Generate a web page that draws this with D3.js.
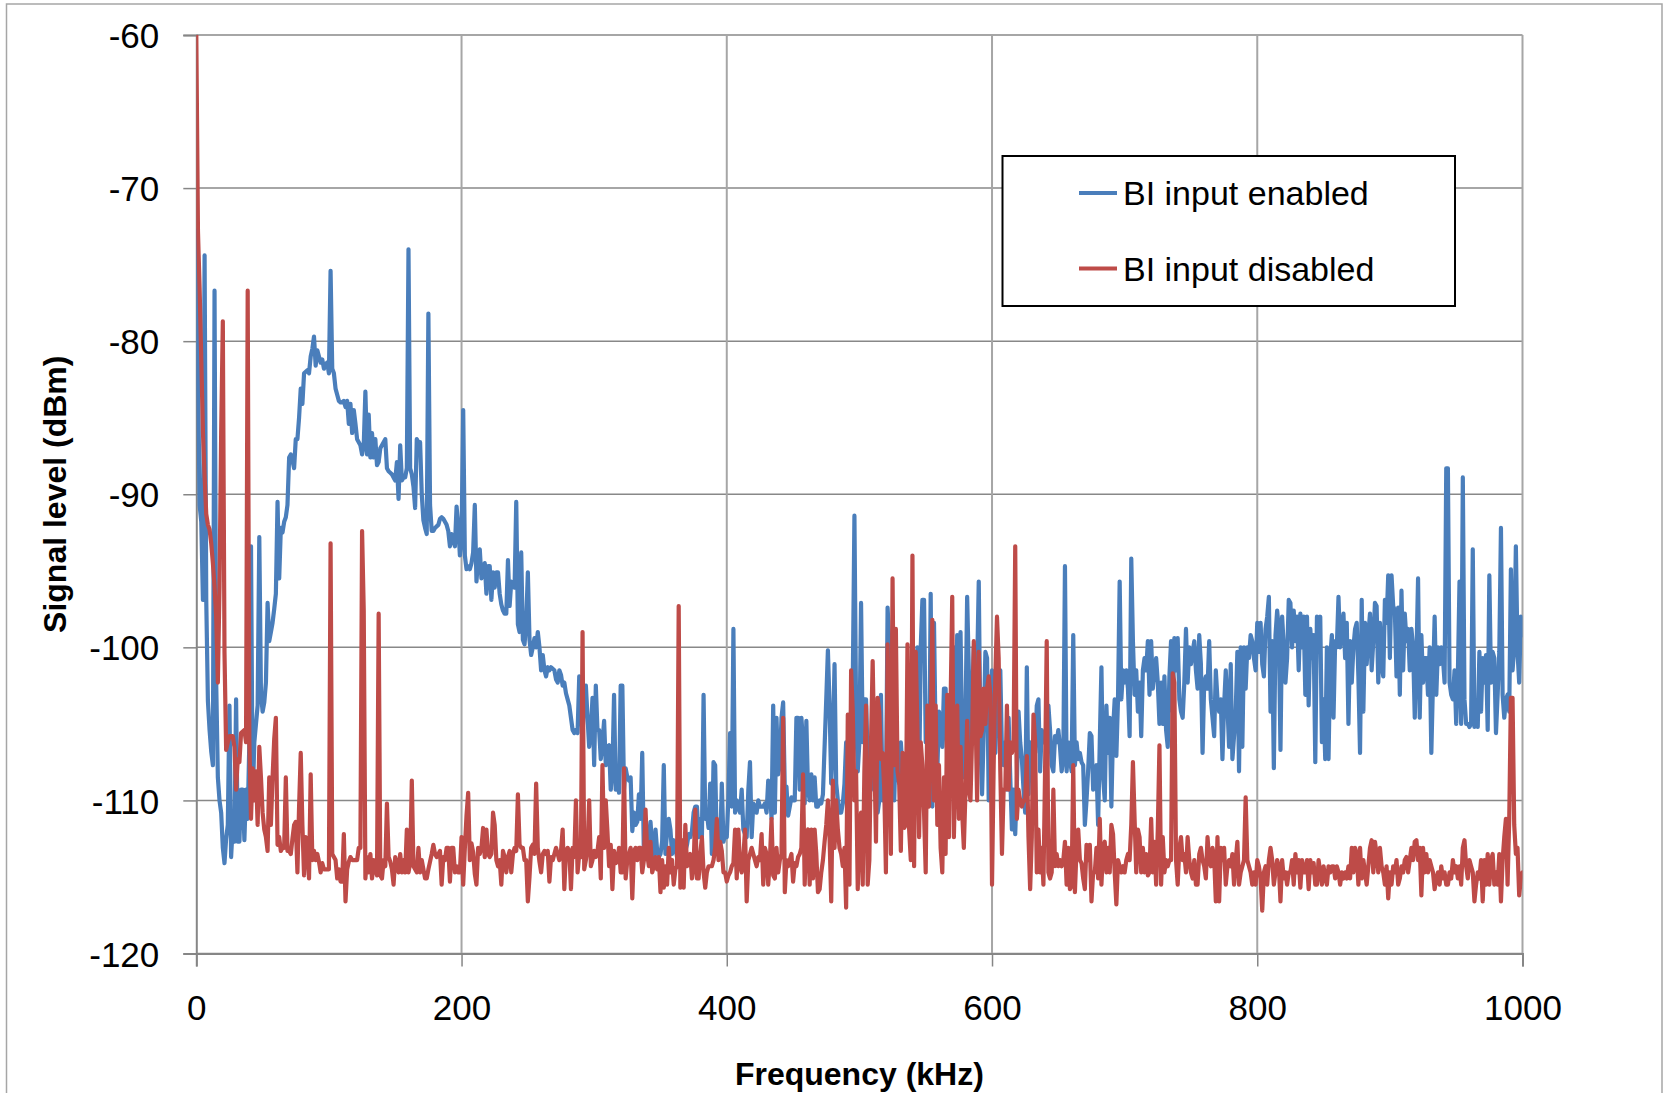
<!DOCTYPE html>
<html>
<head>
<meta charset="utf-8">
<script src="https://cdn.jsdelivr.net/npm/d3@7/dist/d3.min.js"></script>
<style>
  body { margin: 0; background: #fff; }
  text { font-family: "Liberation Sans", Arial, sans-serif; fill: #000; }
</style>
</head>
<body>
<svg id="chart" width="1663" height="1093"></svg>
<script>
// Series names and colours
const seriesNames = ["BI input enabled", "BI input disabled"];
const seriesColors = ["#4a7ebb", "#be4b48"];

// Axis ticks
const xTicks = [0, 200, 400, 600, 800, 1000];
const yTicks = [-60, -70, -80, -90, -100, -110, -120];

// Sweep: points every 1.25 kHz in six blocks
const stepKHz = 1.25;
const segmentStartKHz = [0, 168.75, 335, 508.75, 677.5, 847.5];

// Signal level (dBm), BI input enabled
const enabledDBm = [
  [-72.8,-81.8,-90.7,-91.8,-96.9,-74.4,-96.9,-103.5,-105.4,-106.8,
   -107.7,-76.7,-102.3,-108.5,-110.0,-110.8,-113.1,-114.1,-112.5,-111.6,
   -103.8,-113.7,-111.6,-112.7,-103.4,-112.7,-112.7,-109.3,-109.3,-112.6,
   -109.3,-111.2,-106.2,-93.4,-110.0,-106.2,-105.0,-103.8,-92.8,-103.0,
   -104.2,-103.6,-102.3,-97.1,-99.6,-99.0,-98.4,-97.5,-96.5,-90.5,
   -95.5,-92.2,-92.5,-91.8,-91.5,-90.7,-87.6,-87.4,-87.8,-88.3,
   -86.4,-86.4,-85.0,-83.1,-84.1,-82.1,-82.0,-81.9,-82.1,-81.0,
   -80.5,-79.7,-81.6,-80.6,-81.0,-81.4,-81.2,-81.8,-81.5,-81.4,
   -82.1,-75.4,-81.8,-82.1,-83.1,-83.5,-83.9,-84.0,-84.0,-83.9,
   -84.3,-83.9,-85.4,-84.1,-86.0,-84.5,-85.4,-86.4,-86.6,-86.8,
   -87.4,-86.8,-83.3,-87.4,-84.8,-87.6,-86.0,-87.6,-86.4,-88.1,
   -87.9,-87.0,-86.8,-86.6,-86.4,-88.3,-88.5,-88.6,-88.7,-88.9,
   -89.1,-87.9,-90.3,-86.8,-89.1,-88.9,-88.9,-88.3,-74.0,-88.3,
   -88.7,-89.5,-90.9,-86.4,-86.6],
  [-86.6,-90.0,-91.7,-92.2,-92.6,-78.2,-90.7,-92.4,-92.4,-92.2,
   -92.1,-92.0,-91.6,-91.5,-91.6,-91.8,-92.0,-92.4,-93.4,-92.6,
   -93.0,-93.4,-90.8,-92.0,-94.0,-93.0,-84.5,-94.0,-94.9,-94.7,
   -94.9,-94.5,-93.8,-90.7,-95.7,-94.2,-93.6,-95.5,-94.9,-94.5,
   -96.5,-94.7,-94.7,-96.9,-95.1,-96.1,-95.1,-95.1,-96.5,-97.2,
   -97.6,-97.8,-97.8,-94.3,-97.3,-95.7,-96.0,-96.1,-90.5,-98.5,
   -99.0,-93.8,-99.5,-99.8,-98.4,-95.1,-99.5,-100.5,-100.0,-99.4,
   -100.0,-99.0,-100.0,-101.5,-100.5,-101.5,-101.9,-101.3,-101.5,-101.3,
   -101.4,-101.5,-102.1,-102.3,-101.5,-101.8,-102.5,-102.3,-103.0,-103.4,
   -103.8,-104.6,-105.4,-105.6,-105.4,-105.6,-101.9,-104.2,-105.6,-103.3,
   -102.5,-104.6,-106.5,-105.4,-103.3,-107.7,-102.5,-105.4,-105.4,-107.3,
   -106.2,-104.8,-107.7,-106.5,-106.4,-109.3,-108.1,-103.1,-109.3,-108.1,
   -109.5,-102.5,-102.5,-109.3,-107.9,-108.5,-108.7,-108.5,-112.0,-110.8,
   -111.6,-111.4,-109.6],
  [-111.2,-106.9,-113.5,-113.1,-112.9,-112.3,-111.4,-113.1,-113.7,-111.9,
   -113.3,-113.7,-113.5,-112.7,-107.7,-113.5,-112.0,-111.2,-111.9,-113.5,
   -112.6,-113.1,-113.7,-112.9,-113.1,-113.3,-112.7,-113.3,-112.9,-112.2,
   -112.4,-112.0,-110.8,-110.4,-110.4,-112.4,-111.2,-112.4,-103.1,-111.2,
   -110.8,-111.8,-108.9,-113.5,-107.5,-107.7,-113.1,-112.4,-113.1,-108.9,
   -112.7,-112.2,-112.4,-109.8,-105.6,-110.4,-98.8,-110.8,-110.0,-110.4,
   -110.8,-109.3,-111.9,-112.2,-112.4,-109.3,-107.5,-112.4,-110.2,-110.4,
   -110.8,-110.0,-110.4,-110.4,-110.4,-110.2,-110.8,-108.7,-109.1,-111.2,
   -103.8,-110.8,-104.6,-108.3,-107.7,-104.6,-103.6,-109.3,-109.1,-111.0,
   -110.4,-109.8,-110.0,-110.0,-104.6,-104.6,-109.3,-104.6,-106.2,-110.2,
   -104.8,-109.3,-110.0,-108.3,-110.0,-108.5,-110.4,-110.4,-110.0,-110.2,
   -109.6,-106.5,-103.4,-100.2,-103.8,-108.9,-106.2,-101.1,-108.9,-110.0,
   -110.8,-110.8,-110.2,-108.9,-106.2,-108.5,-107.3,-104.0,-102.3,-91.4,
   -104.2,-108.1,-106.2,-97.1,-106.2,-103.4,-103.4,-107.3,-109.3],
  [-109.3,-108.1,-108.5,-105.8,-110.8,-110.0,-103.1,-110.0,-108.1,-110.0,
   -97.4,-99.6,-107.7,-107.3,-110.0,-106.2,-108.1,-108.9,-106.2,-108.1,
   -110.4,-109.3,-106.2,-104.2,-107.7,-107.7,-109.6,-106.2,-100.0,-109.3,
   -100.0,-96.9,-96.9,-106.2,-104.2,-109.3,-96.5,-110.4,-98.4,-106.2,
   -108.1,-104.2,-105.0,-106.5,-102.7,-102.7,-107.7,-106.2,-105.4,-101.5,
   -100.0,-105.4,-99.2,-109.3,-99.0,-106.2,-108.5,-104.6,-96.7,-101.5,
   -107.7,-103.4,-100.0,-105.8,-101.5,-95.7,-106.2,-109.6,-105.4,-100.3,
   -100.7,-110.0,-105.4,-101.5,-101.9,-106.9,-103.8,-103.4,-101.5,-106.9,
   -107.7,-106.2,-109.3,-104.6,-108.5,-111.9,-109.3,-112.2,-108.9,-104.2,
   -106.2,-107.3,-109.3,-110.8,-101.3,-109.6,-106.2,-108.5,-106.2,-106.9,
   -103.8,-103.4,-108.1,-105.4,-105.8,-106.2,-106.5,-103.8,-105.4,-107.7,
   -108.1,-105.8,-106.2,-105.4,-106.5,-108.1,-107.3,-94.7,-108.1,-106.2,
   -107.3,-108.1,-99.2,-107.7,-106.2,-107.3,-106.9,-107.5,-107.7,-111.6,
   -110.0,-108.0,-105.6,-105.8,-109.3],
  [-108.5,-107.7,-111.6,-106.2,-101.3,-108.5,-110.0,-103.8,-106.9,-104.6,
   -110.4,-105.4,-103.4,-107.1,-103.4,-95.7,-103.4,-101.5,-102.3,-101.5,
   -102.7,-105.8,-94.2,-99.6,-103.1,-101.5,-104.2,-102.3,-105.8,-101.5,
   -100.7,-101.5,-99.6,-103.1,-99.6,-102.7,-101.5,-100.7,-102.3,-105.0,
   -102.3,-105.0,-101.9,-105.4,-106.5,-101.9,-99.6,-104.2,-99.4,-101.5,
   -99.4,-103.4,-104.2,-104.6,-102.3,-98.8,-102.3,-100.0,-101.1,-100.3,
   -99.6,-101.5,-102.7,-99.2,-101.1,-106.9,-102.3,-101.9,-102.7,-99.6,
   -103.4,-104.6,-105.8,-101.5,-103.4,-104.2,-103.4,-107.3,-103.8,-101.5,
   -103.8,-106.5,-101.1,-107.3,-105.8,-104.2,-100.3,-108.1,-100.0,-106.5,
   -100.0,-102.7,-100.0,-100.7,-99.2,-99.6,-100.7,-101.5,-98.4,-100.3,
   -98.4,-101.1,-101.9,-98.8,-98.0,-96.7,-104.2,-99.6,-107.9,-99.2,
   -97.6,-98.8,-106.7,-98.0,-100.0,-102.3,-100.7,-96.9,-97.1,-100.0,
   -97.6,-99.6,-98.0,-101.5,-97.8,-100.0,-98.0,-103.1,-98.0,-103.8,
   -98.8,-100.7,-99.2,-107.5,-98.0,-99.2],
  [-98.0,-106.2,-103.4,-107.3,-100.0,-107.3,-100.7,-99.2,-104.6,-99.6,
   -100.0,-96.7,-100.0,-99.2,-97.8,-100.7,-98.4,-105.0,-99.6,-102.3,
   -100.0,-98.8,-98.4,-101.9,-106.9,-96.9,-104.2,-98.4,-101.1,-99.2,
   -97.8,-101.5,-99.6,-97.1,-97.3,-102.3,-98.4,-101.1,-101.9,-96.9,
   -98.4,-95.3,-100.7,-95.3,-97.3,-97.6,-101.9,-97.4,-103.1,-96.3,
   -101.5,-97.8,-99.6,-98.8,-101.5,-98.8,-100.0,-104.6,-100.7,-95.5,
   -104.6,-99.2,-102.3,-100.7,-100.7,-103.1,-100.0,-106.9,-102.3,-98.0,
   -103.1,-100.0,-101.1,-100.0,-100.7,-102.3,-88.3,-88.3,-102.3,-103.1,
   -103.4,-101.5,-105.0,-101.9,-95.7,-105.0,-88.9,-103.4,-105.0,-105.0,
   -105.2,-105.0,-93.6,-105.2,-103.8,-105.2,-100.3,-104.2,-100.7,-102.3,
   -100.5,-105.4,-95.3,-102.3,-100.3,-100.7,-105.6,-103.1,-100.3,-92.2,
   -103.1,-104.6,-103.4,-103.1,-104.2,-94.9,-101.5,-100.0,-93.4,-100.3,
   -102.3,-98.0,-99.2]
];

// Signal level (dBm), BI input disabled
const disabledDBm = [
  [-60.0,-72.8,-76.6,-81.2,-85.9,-88.8,-91.3,-92.0,-92.3,-93.2,
   -94.5,-96.0,-98.0,-102.3,-96.0,-86.0,-78.7,-100.3,-106.7,-106.2,
   -105.8,-105.8,-105.8,-106.5,-109.3,-107.3,-107.5,-105.6,-105.5,-105.4,
   -106.2,-76.7,-106.2,-111.2,-107.9,-110.0,-108.1,-111.6,-106.5,-108.5,
   -110.8,-111.9,-112.4,-113.3,-108.5,-111.6,-108.5,-106.0,-104.6,-112.9,
   -112.4,-113.3,-113.1,-113.1,-108.5,-113.3,-113.3,-113.5,-112.5,-111.6,
   -111.4,-114.7,-110.4,-106.9,-111.6,-114.9,-112.4,-113.0,-115.1,-108.3,
   -113.9,-113.3,-113.9,-113.5,-114.0,-114.7,-114.1,-114.5,-114.5,-114.5,
   -114.5,-93.2,-113.5,-113.7,-113.9,-115.1,-114.5,-115.3,-115.3,-112.2,
   -116.6,-114.5,-114.0,-113.7,-113.9,-113.9,-113.9,-113.9,-113.1,-113.1,
   -92.4,-97.6,-115.1,-113.7,-114.7,-113.5,-115.1,-113.9,-114.5,-114.9,
   -97.8,-114.9,-115.1,-113.9,-114.3,-110.2,-113.7,-114.0,-114.5,-115.5,
   -113.7,-114.2,-114.7,-113.5,-114.7,-113.9,-114.7,-111.9,-114.7,-114.1,
   -108.7,-114.3,-114.5,-114.7,-113.1],
  [-114.7,-113.9,-114.5,-115.1,-115.1,-114.5,-114.0,-113.5,-112.9,-113.5,
   -113.7,-113.5,-113.3,-115.5,-113.7,-113.9,-113.1,-113.1,-115.3,-113.1,
   -113.1,-114.7,-114.3,-114.7,-114.7,-112.4,-115.5,-113.1,-111.0,-109.5,
   -113.9,-112.8,-113.4,-114.8,-115.5,-113.1,-113.5,-113.1,-111.8,-113.7,
   -111.9,-113.5,-113.7,-113.5,-110.8,-111.6,-113.9,-114.3,-113.9,-115.5,
   -113.3,-113.7,-114.7,-113.7,-113.3,-114.7,-113.5,-113.1,-113.3,-109.6,
   -112.9,-113.1,-113.1,-113.9,-113.9,-116.6,-115.0,-113.1,-112.9,-113.5,
   -108.9,-113.1,-114.0,-114.7,-113.5,-113.3,-113.5,-113.3,-115.3,-113.7,
   -113.9,-113.5,-113.1,-113.5,-113.9,-113.3,-111.9,-115.8,-113.3,-113.1,
   -113.3,-115.8,-113.1,-113.7,-110.0,-114.7,-113.5,-113.7,-99.0,-114.5,
   -113.9,-113.1,-110.0,-114.3,-113.9,-113.3,-113.7,-113.3,-112.4,-115.1,
   -107.7,-113.1,-110.0,-112.0,-114.3,-112.9,-115.8,-113.3,-114.1,-114.0,
   -113.1,-114.7,-114.7,-107.9,-115.1,-113.9,-113.5,-113.1,-116.4,-113.3,
   -113.1,-113.9,-113.1],
  [-113.1,-114.7,-113.9,-110.6,-113.5,-114.3,-112.7,-114.7,-114.3,-113.7,
   -114.5,-113.7,-116.0,-113.9,-115.7,-114.3,-115.5,-113.1,-114.7,-113.9,
   -115.5,-114.5,-114.3,-97.3,-115.7,-112.6,-115.7,-111.6,-114.3,-114.1,
   -113.5,-115.1,-114.3,-110.6,-115.1,-115.1,-113.5,-112.4,-114.7,-115.7,
   -114.7,-114.3,-114.3,-114.3,-113.9,-113.1,-111.2,-113.9,-112.7,-113.3,
   -114.7,-114.7,-115.3,-114.9,-114.7,-114.3,-114.1,-111.9,-115.1,-111.9,
   -114.3,-114.7,-113.7,-111.9,-116.6,-113.9,-113.5,-113.1,-113.5,-113.9,
   -114.3,-113.7,-113.9,-112.2,-115.5,-113.1,-113.5,-115.5,-113.9,-111.2,
   -114.9,-115.1,-113.1,-114.7,-113.9,-113.5,-104.6,-116.0,-113.9,-114.3,
   -113.9,-113.5,-115.3,-114.1,-114.3,-113.7,-113.5,-113.1,-108.3,-115.5,
   -112.2,-111.9,-115.5,-111.9,-115.1,-111.9,-113.5,-116.0,-115.8,-114.7,
   -113.9,-112.7,-111.6,-110.0,-112.4,-116.6,-108.7,-113.1,-110.0,-111.9,
   -113.1,-113.5,-114.3,-113.1,-117.0,-104.4,-115.5,-101.5,-104.2,-110.0,
   -108.1,-115.8,-111.6,-110.8,-115.5,-108.1,-103.8,-115.5,-113.9],
  [-106.2,-100.9,-106.9,-112.7,-103.3,-104.2,-107.3,-106.9,-109.3,-114.7,
   -99.8,-106.5,-113.5,-95.5,-107.7,-98.8,-108.1,-108.9,-113.3,-106.9,
   -111.8,-111.6,-99.8,-111.9,-113.9,-94.0,-114.3,-100.3,-105.4,-112.4,
   -106.2,-107.7,-110.8,-114.7,-103.8,-110.4,-105.8,-98.2,-110.0,-103.8,
   -111.6,-107.7,-113.1,-114.7,-108.5,-113.5,-103.1,-112.4,-103.8,-96.7,
   -112.4,-107.3,-103.8,-111.2,-106.5,-110.8,-113.1,-109.3,-104.8,-109.3,
   -110.0,-105.8,-99.6,-103.8,-110.0,-100.3,-105.8,-105.4,-102.7,-105.0,
   -102.7,-101.9,-103.1,-115.5,-107.7,-101.9,-98.0,-100.7,-108.1,-113.5,
   -109.3,-109.3,-103.8,-109.3,-106.2,-106.9,-106.5,-93.4,-111.2,-109.3,
   -110.0,-110.4,-110.0,-110.0,-107.1,-112.4,-115.8,-112.4,-104.4,-106.2,
   -114.7,-111.9,-114.7,-113.1,-115.5,-108.1,-99.6,-114.7,-115.1,-114.7,
   -109.3,-114.3,-113.5,-114.3,-113.9,-114.3,-113.9,-112.7,-115.5,-113.1,
   -115.8,-115.6,-107.7,-116.0,-113.1,-111.9,-113.9,-114.1,-115.1,-115.8,
   -112.9,-113.9,-112.9,-116.6,-114.7],
  [-114.7,-113.1,-115.1,-111.2,-115.5,-113.1,-112.7,-114.7,-113.1,-114.7,
   -111.6,-112.2,-114.7,-116.8,-113.9,-114.3,-114.7,-114.3,-114.7,-113.9,
   -113.5,-113.9,-111.6,-107.5,-111.2,-114.7,-111.9,-112.4,-114.7,-113.1,
   -114.7,-113.5,-114.9,-114.7,-111.2,-114.7,-112.7,-115.5,-111.9,-106.4,
   -115.5,-112.4,-114.7,-113.9,-114.3,-113.9,-113.9,-101.7,-102.3,-113.9,
   -115.5,-113.1,-112.4,-113.9,-113.5,-114.7,-112.4,-113.9,-114.7,-115.1,
   -113.9,-115.5,-115.5,-113.5,-113.1,-113.9,-114.3,-115.1,-112.4,-113.9,
   -114.3,-113.1,-113.7,-116.6,-112.4,-116.6,-113.1,-113.9,-113.1,-115.5,
   -114.3,-113.9,-114.3,-113.5,-115.5,-113.9,-112.7,-115.5,-114.7,-114.3,
   -113.9,-109.8,-113.9,-114.3,-114.7,-115.5,-114.7,-115.5,-113.9,-114.3,
   -115.1,-117.2,-114.7,-114.3,-115.5,-113.9,-113.1,-113.9,-115.5,-114.7,
   -113.9,-114.3,-116.6,-113.9,-115.1,-114.7,-115.5,-114.7,-114.7,-113.9,
   -115.5,-113.5,-114.7,-113.9,-115.7,-113.9,-114.7,-114.7,-113.9,-115.8,
   -113.9,-114.7,-114.1,-115.5,-115.5,-113.9],
  [-114.7,-115.5,-114.3,-115.1,-115.5,-114.3,-114.7,-114.3,-114.3,-115.1,
   -114.3,-114.7,-115.5,-114.7,-115.1,-114.7,-115.1,-114.3,-115.1,-113.1,
   -114.7,-113.1,-113.5,-115.5,-113.1,-115.1,-113.9,-114.7,-115.5,-114.3,
   -113.1,-112.6,-114.7,-112.7,-113.5,-114.7,-113.1,-114.3,-114.7,-115.5,
   -114.3,-116.4,-114.7,-115.5,-114.3,-114.7,-113.9,-115.5,-115.1,-114.3,
   -114.7,-113.9,-113.7,-114.7,-113.9,-113.1,-113.9,-112.7,-112.6,-113.9,
   -113.1,-116.2,-113.1,-114.7,-113.5,-114.7,-113.9,-114.3,-114.7,-115.8,
   -115.1,-114.7,-115.5,-114.3,-115.1,-114.7,-115.5,-115.5,-114.7,-115.1,
   -113.9,-114.7,-114.3,-115.1,-114.3,-115.5,-113.1,-112.6,-114.3,-115.1,
   -113.9,-114.3,-114.7,-116.6,-115.5,-114.7,-115.1,-113.9,-116.6,-113.9,
   -115.5,-113.5,-115.5,-113.9,-113.5,-115.5,-114.7,-115.5,-113.5,-116.6,
   -113.9,-112.4,-111.2,-115.5,-111.2,-103.3,-103.3,-111.6,-113.5,-113.1,
   -116.2,-115.1,-114.7]
];

// Flatten the blocks into {khz, dbm} points on the sweep grid
function toPoints(blocks) {
  const pts = [];
  blocks.forEach(function(block, b) {
    block.forEach(function(v, i) {
      pts.push({ khz: segmentStartKHz[b] + i * stepKHz, dbm: v });
    });
  });
  return pts;
}

const series = [toPoints(enabledDBm), toPoints(disabledDBm)];

/**
 * Layout
 */
const width = 1663;
const height = 1093;
const plot = { left: 196.3, right: 1522.5, top: 35, bottom: 953.5 };

const svg = d3.select("#chart");

const xScale = d3.scaleLinear().domain([0, 1000]).range([plot.left, plot.right]);
const yScale = d3.scaleLinear().domain([-120, -60]).range([plot.bottom, plot.top]);

// Outer chart border
svg.append("rect")
  .attr("x", 6.5).attr("y", 4)
  .attr("width", 1655.5).attr("height", height + 10)
  .attr("fill", "#fff")
  .attr("stroke", "#a6a6a6")
  .attr("stroke-width", 1.5);

// Gridlines
svg.append("g").selectAll("line")
  .data(yTicks)
  .enter().append("line")
  .attr("x1", plot.left).attr("x2", plot.right)
  .attr("y1", function(d) { return yScale(d); })
  .attr("y2", function(d) { return yScale(d); })
  .attr("stroke", "#888")
  .attr("stroke-width", 1.5);

svg.append("g").selectAll("line")
  .data(xTicks.slice(1))
  .enter().append("line")
  .attr("x1", function(d) { return xScale(d); })
  .attr("x2", function(d) { return xScale(d); })
  .attr("y1", plot.top).attr("y2", plot.bottom)
  .attr("stroke", "#a6a6a6")
  .attr("stroke-width", 2);

// Axes (plain hyphen for negatives, as in the original)
const yAxis = d3.axisLeft(yScale)
  .tickValues(yTicks)
  .tickSize(13)
  .tickPadding(24)
  .tickFormat(function(d) { return String(d); });

const xAxis = d3.axisBottom(xScale)
  .tickValues(xTicks)
  .tickSize(13)
  .tickPadding(36)
  .tickFormat(function(d) { return String(d); });

const gy = svg.append("g")
  .attr("transform", "translate(" + plot.left + ",0)")
  .call(yAxis);

const gx = svg.append("g")
  .attr("transform", "translate(0," + plot.bottom + ")")
  .call(xAxis);

[gx, gy].forEach(function(g) {
  g.select(".domain").attr("stroke", "#868686").attr("stroke-width", 2);
  g.selectAll(".tick line").attr("stroke", "#868686").attr("stroke-width", 1.5);
  g.selectAll(".tick text")
    .attr("fill", "#000")
    .style("font-family", "'Liberation Sans', Arial, sans-serif")
    .style("font-size", "35px");
});
gy.selectAll(".tick text").attr("dy", "0.36em");
gx.selectAll(".tick text").attr("dy", "0.5em");

// Series lines
svg.append("clipPath").attr("id", "plotClip")
  .append("rect")
  .attr("x", plot.left).attr("y", plot.top)
  .attr("width", plot.right - plot.left)
  .attr("height", plot.bottom - plot.top);

const line = d3.line()
  .x(function(d) { return xScale(d.khz); })
  .y(function(d) { return yScale(d.dbm); });

svg.append("g")
  .attr("clip-path", "url(#plotClip)")
  .selectAll("path")
  .data(series)
  .enter().append("path")
  .attr("d", line)
  .attr("fill", "none")
  .attr("stroke", function(d, i) { return seriesColors[i]; })
  .attr("stroke-width", 4.2)
  .attr("stroke-linejoin", "round")
  .attr("stroke-linecap", "round");

// Axis titles
svg.append("text")
  .attr("x", (plot.left + plot.right) / 2)
  .attr("y", 1085)
  .attr("text-anchor", "middle")
  .style("font-size", "32px")
  .style("font-weight", "bold")
  .text("Frequency (kHz)");

svg.append("text")
  .attr("transform", "translate(66," + ((plot.top + plot.bottom) / 2) + ") rotate(-90)")
  .attr("text-anchor", "middle")
  .style("font-size", "32px")
  .style("font-weight", "bold")
  .text("Signal level (dBm)");

// Legend
const legend = svg.append("g");

legend.append("rect")
  .attr("x", 1002.5).attr("y", 156)
  .attr("width", 452.5).attr("height", 150)
  .attr("fill", "#fff")
  .attr("stroke", "#000")
  .attr("stroke-width", 2);

const legendItem = legend.selectAll(".legendItem")
  .data(seriesNames)
  .enter().append("g")
  .attr("class", "legendItem")
  .attr("transform", function(d, i) { return "translate(0," + (193 + i * 75.5) + ")"; });

legendItem.append("line")
  .attr("x1", 1079).attr("x2", 1117)
  .attr("stroke", function(d, i) { return seriesColors[i]; })
  .attr("stroke-width", 4);

legendItem.append("text")
  .attr("x", 1123)
  .attr("dy", "0.36em")
  .style("font-size", "34px")
  .text(function(d) { return d; });
</script>
</body>
</html>
